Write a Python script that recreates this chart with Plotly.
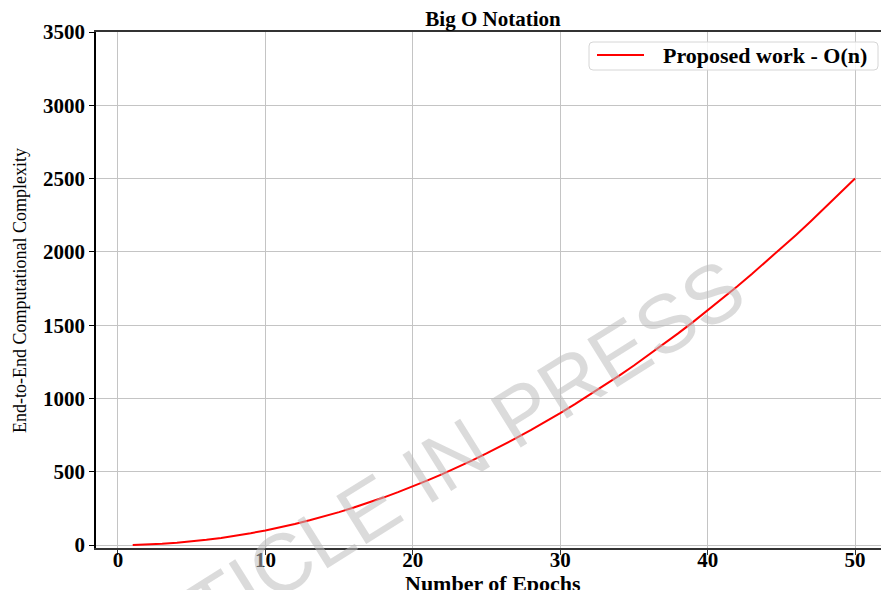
import plotly.graph_objects as go

# Epoch counts and the corresponding end-to-end computational complexity
epochs = list(range(1, 51))
complexity = [
    1, 4, 9, 16, 25, 36, 49, 64, 81, 100,
    121, 144, 169, 196, 225, 256, 289, 324, 361, 400,
    441, 484, 529, 576, 625, 676, 729, 784, 841, 900,
    961, 1024, 1089, 1156, 1225, 1296, 1369, 1444, 1521, 1600,
    1681, 1764, 1849, 1936, 2025, 2116, 2209, 2304, 2401, 2500,
]
x_ticks = [0, 10, 20, 30, 40, 50]
y_ticks = [0, 500, 1000, 1500, 2000, 2500, 3000, 3500]
series_name = "Proposed work - O(n)"

W, H = 881, 590
ML, MR, MT, MB = 96, 0, 32, 42
serif = "Liberation Serif, Times New Roman, serif"
grid = "#c4c4c4"
line_red = "#ff0000"


def px(xp):
    """Horizontal pixel position -> paper coordinate."""
    return (xp - ML) / (W - ML - MR)


def py(yp):
    """Vertical pixel position (from top) -> paper coordinate."""
    return (H - MB - yp) / (H - MT - MB)


fig = go.Figure()
fig.add_trace(go.Scatter(
    x=epochs, y=complexity, mode="lines",
    name=series_name, showlegend=False,
    line=dict(color=line_red, width=2),
))

fig.update_layout(
    width=W, height=H,
    margin=dict(l=ML, r=MR, t=MT, b=MB),
    paper_bgcolor="white", plot_bgcolor="white",
    title=dict(
        text="Big O Notation", xref="paper", x=px(493), xanchor="center",
        yref="container", y=1 - 19 / H, yanchor="middle",
        font=dict(family=serif, size=21, color="black", weight="bold"),
    ),
)

fig.update_xaxes(
    range=[-1.49, 51.76], tickvals=x_ticks,
    showgrid=True, gridcolor=grid, gridwidth=1, zeroline=False,
    showline=True, linecolor="#333333", linewidth=1.5, mirror=True,
    ticks="outside", ticklen=5, tickcolor="#333333",
    ticklabelstandoff=-13,
    tickfont=dict(family=serif, size=21, color="black", weight="bold"),
)
fig.update_yaxes(
    range=[-20, 3500], tickvals=y_ticks,
    showgrid=True, gridcolor=grid, gridwidth=1, zeroline=False,
    showline=True, linecolor="black", linewidth=1.5,
    ticks="outside", ticklen=5, tickcolor="black",
    tickfont=dict(family=serif, size=21, color="black", weight="bold"),
)

# Axis titles
fig.add_annotation(
    text="Number of Epochs", xref="paper", yref="paper",
    x=px(493), y=py(583), xanchor="center", yanchor="middle", showarrow=False,
    font=dict(family=serif, size=22, color="black", weight="bold"),
)
fig.add_annotation(
    text="End-to-End Computational Complexity", xref="paper", yref="paper",
    x=px(20), y=py(291), xanchor="center", yanchor="middle", showarrow=False,
    textangle=-90,
    font=dict(family=serif, size=18, color="black"),
)

# Legend box with a line sample and the series name
bx0, bx1, by0, by1, r = px(589), px(878), py(42), py(70), 4
rx, ry = r / (W - ML - MR), r / (H - MT - MB)
legend_path = (
    f"M {bx0 + rx},{by0} L {bx1 - rx},{by0} Q {bx1},{by0} {bx1},{by0 - ry} "
    f"L {bx1},{by1 + ry} Q {bx1},{by1} {bx1 - rx},{by1} "
    f"L {bx0 + rx},{by1} Q {bx0},{by1} {bx0},{by1 + ry} "
    f"L {bx0},{by0 - ry} Q {bx0},{by0} {bx0 + rx},{by0} Z"
)
fig.add_shape(type="path", path=legend_path, xref="paper", yref="paper",
              fillcolor="rgba(255,255,255,0.85)",
              line=dict(color="#d6d6d6", width=1), layer="above")
fig.add_shape(type="line", xref="paper", yref="paper",
              x0=px(597), x1=px(644), y0=py(55), y1=py(55),
              line=dict(color=line_red, width=2), layer="above")
fig.add_annotation(
    text=series_name, xref="paper", yref="paper",
    x=px(661), y=py(56), xanchor="left", yanchor="middle", showarrow=False,
    font=dict(family=serif, size=22, color="black", weight="bold"),
)

# Watermark across the plot
fig.add_annotation(
    text="ARTICLE IN PRESS", xref="paper", yref="paper",
    x=px(417), y=py(478), xanchor="center", yanchor="middle", showarrow=False,
    textangle=-32,
    font=dict(family="Liberation Sans, Arial, sans-serif", size=82,
              color="rgba(190,190,190,0.55)"),
)

fig.write_html("out.html")
